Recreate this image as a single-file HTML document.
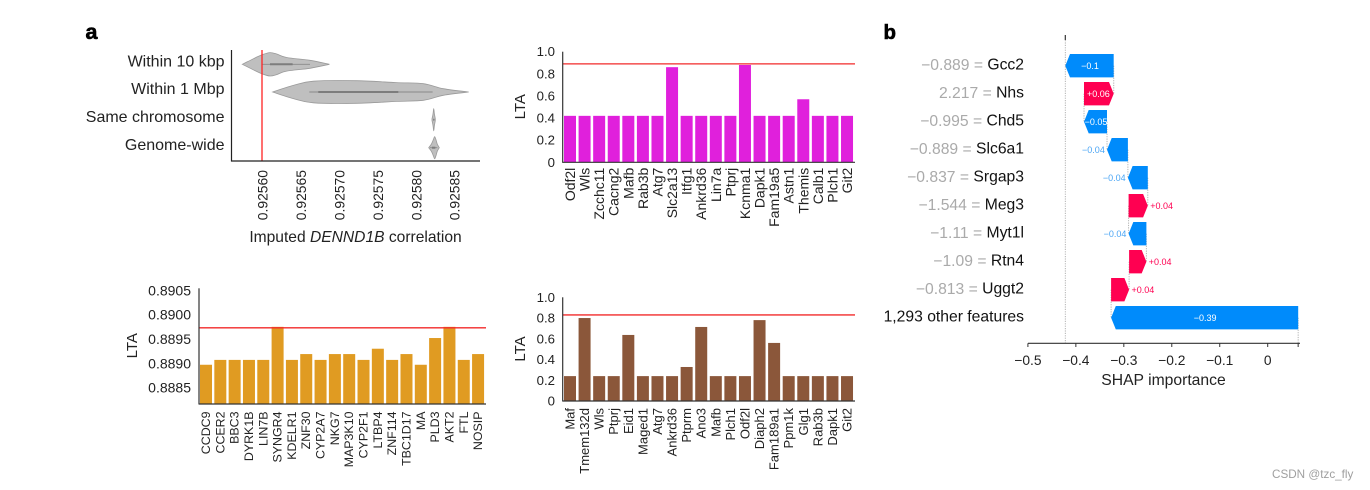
<!DOCTYPE html>
<html lang="en">
<head>
<meta charset="utf-8">
<title>LTA bars and SHAP waterfall</title>
<style>
html,body{margin:0;padding:0;background:#fff;width:1370px;height:490px;overflow:hidden}
svg{display:block;font-family:"Liberation Sans",sans-serif;fill:#222}
</style>
</head>
<body>
<svg id="fig" width="1370" height="490" viewBox="0 0 1370 490" xmlns="http://www.w3.org/2000/svg">
  <rect width="1370" height="490" fill="#fff"/>
  <text x="85.5" y="39" font-size="21.5" font-weight="bold" fill="#000" stroke="#000" stroke-width="0.6">a</text>
  <text x="883.5" y="39" font-size="20.5" font-weight="bold" fill="#000" stroke="#000" stroke-width="0.6">b</text>
  <g id="violin"></g>
  <g id="barsTop"></g>
  <g id="barsLeft"></g>
  <g id="barsRight"></g>
  <g id="shap"></g>
  <text x="355.5" y="242" font-size="15.6" text-anchor="middle">Imputed <tspan font-style="italic">DENND1B</tspan> correlation</text>
  <text x="1163.5" y="385" font-size="15.7" text-anchor="middle">SHAP importance</text>
  <text x="1272" y="478" font-size="11.7" fill="#a0a0a0">CSDN @tzc_fly</text>
</svg>
<script>
// ---------- Violin data ----------
const violinCategories = ["Within 10 kbp", "Within 1 Mbp", "Same chromosome", "Genome-wide"];
const violinTicks = [0.9256, 0.92565, 0.9257, 0.92575, 0.9258, 0.92585];
const violinTickLabels = ["0.92560", "0.92565", "0.92570", "0.92575", "0.92580", "0.92585"];
const violinThreshold = 0.9256;
const violin10kbpValues = [0.9255744, 0.9255887, 0.9256, 0.9256104, 0.9256191, 0.9256321, 0.9256625, 0.9256877];
const violin10kbpDensity = [0, 0.47, 0.81, 1, 0.88, 0.58, 0.34, 0];
const violin1MbpValues = [0.9256139, 0.9256408, 0.9256668, 0.9257233, 0.9257753, 0.9258101, 0.9258361, 0.9258691];
const violin1MbpDensity = [0, 0.56, 0.92, 0.97, 0.8, 0.71, 0.28, 0];
const violinChromValues = [0.9258214, 0.9258227, 0.9258236, 0.9258245, 0.9258257];
const violinChromDensity = [0.08, 0.5, 0.95, 0.5, 0.08];
const violinGenomeValues = [0.9258170, 0.9258205, 0.9258231, 0.9258248, 0.9258265, 0.9258283, 0.9258309];
const violinGenomeDensity = [0, 0.3, 0.68, 0.95, 0.68, 0.3, 0];
const violinWhiskerLow = [0.9256, 0.9256616, 0.9258227, 0.9258187];
const violinWhiskerHigh = [0.9256625, 0.9258222, 0.9258248, 0.9258283];
const violinQ1 = [0.9256104, 0.9256733, 0.9258230, 0.9258213];
const violinQ3 = [0.9256399, 0.9257775, 0.9258244, 0.9258257];

// ---------- Magenta bars ----------
const topCategories = ["Odf2l","Wls","Zcchc11","Cacng2","Mafb","Rab3b","Atg7","Slc2a13","Itfg1","Ankrd36","Lin7a","Ptprj","Kcnma1","Dapk1","Fam19a5","Astn1","Themis","Calb1","Plch1","Git2"];
const topValues = [0.42,0.42,0.42,0.42,0.42,0.42,0.42,0.86,0.42,0.42,0.42,0.42,0.88,0.42,0.42,0.42,0.57,0.42,0.42,0.42];
const topThreshold = 0.89;
const unitTicks = [0, 0.2, 0.4, 0.6, 0.8, 1];
const unitTickLabels = ["0", "0.2", "0.4", "0.6", "0.8", "1.0"];

// ---------- Ochre bars ----------
const leftCategories = ["CCDC9","CCER2","BBC3","DYRK1B","LIN7B","SYNGR4","KDELR1","ZNF30","CYP2A7","NKG7","MAP3K10","CYP2F1","LTBP4","ZNF114","TBC1D17","MA","PLD3","AKT2","FTL","NOSIP"];
const leftValues = [0.88897,0.88907,0.88907,0.88907,0.88907,0.88975,0.88907,0.88919,0.88907,0.88919,0.88919,0.88907,0.8893,0.88907,0.88919,0.88897,0.88952,0.88975,0.88907,0.88919];
const leftThreshold = 0.88973;
const leftTicks = [0.8885, 0.889, 0.8895, 0.89, 0.8905];
const leftTickLabels = ["0.8885", "0.8890", "0.8895", "0.8900", "0.8905"];

// ---------- Brown bars ----------
const rightCategories = ["Maf","Tmem132d","Wls","Ptprj","Eid1","Maged1","Atg7","Ankrd36","Ptprm","Ano3","Mafb","Plch1","Odf2l","Diaph2","Fam189a1","Ppm1k","Glg1","Rab3b","Dapk1","Git2"];
const rightValues = [0.24,0.8,0.24,0.24,0.637,0.24,0.24,0.24,0.328,0.714,0.24,0.24,0.24,0.78,0.56,0.24,0.24,0.24,0.24,0.24];
const rightThreshold = 0.83;

// ---------- SHAP waterfall (top row first) ----------
const shapFeatures = ["Gcc2","Nhs","Chd5","Slc6a1","Srgap3","Meg3","Myt1l","Rtn4","Uggt2","1,293 other features"];
const shapFeatureValues = ["\u22120.889","2.217","\u22120.995","\u22120.889","\u22120.837","\u22121.544","\u22121.11","\u22121.09","\u22120.813",""];
const shapValues = [-0.101,0.062,-0.048,-0.0435,-0.0415,0.04,-0.037,0.036,0.0375,-0.39];
const shapPrinted = ["\u22120.1","+0.06","\u22120.05","\u22120.04","\u22120.04","+0.04","\u22120.04","+0.04","+0.04","\u22120.39"];
const shapPredicted = 0.0635;
const shapTicks = [-0.5,-0.4,-0.3,-0.2,-0.1,0];
const shapTickLabels = ["\u22120.5","\u22120.4","\u22120.3","\u22120.2","\u22120.1","0"];

const NS = "http://www.w3.org/2000/svg";
function mk(parent, tag, attrs, txt) {
  const el = document.createElementNS(NS, tag);
  for (const k in attrs) el.setAttribute(k, attrs[k]);
  if (txt !== undefined) el.textContent = txt;
  parent.appendChild(el);
  return el;
}
function rotatedLabel(parent, x, y, size, txt, fill) {
  return mk(parent, "text", {x: x, y: y, "font-size": size, "text-anchor": "end", "dominant-baseline": "central", fill: fill || "#222", transform: "rotate(-90 " + x + " " + y + ")"}, txt);
}

// ---------- Violin drawing ----------
(function () {
  const g = document.getElementById("violin");
  const xV = v => 262 + (v - 0.9256) / 0.00005 * 38.4;
  const rowY = [64.3, 92, 119.7, 147.7];
  const maxHalf = 11.7;
  const valueSets = [violin10kbpValues, violin1MbpValues, violinChromValues, violinGenomeValues];
  const densitySets = [violin10kbpDensity, violin1MbpDensity, violinChromDensity, violinGenomeDensity];
  valueSets.forEach((vals, r) => {
    const dens = densitySets[r];
    const top = vals.map((v, i) => [xV(v), rowY[r] - dens[i] * maxHalf]);
    const bot = vals.map((v, i) => [xV(v), rowY[r] + dens[i] * maxHalf]).reverse();
    const pts = top.concat(bot);
    let d = "M" + pts[0][0].toFixed(1) + " " + pts[0][1].toFixed(1);
    const smooth = list => {
      for (let i = 0; i < list.length - 1; i++) {
        const p0 = list[Math.max(i - 1, 0)], p1 = list[i], p2 = list[i + 1], p3 = list[Math.min(i + 2, list.length - 1)];
        const c1x = p1[0] + (p2[0] - p0[0]) / 6, c1y = p1[1] + (p2[1] - p0[1]) / 6;
        const c2x = p2[0] - (p3[0] - p1[0]) / 6, c2y = p2[1] - (p3[1] - p1[1]) / 6;
        d += "C" + c1x.toFixed(1) + " " + c1y.toFixed(1) + " " + c2x.toFixed(1) + " " + c2y.toFixed(1) + " " + p2[0].toFixed(1) + " " + p2[1].toFixed(1);
      }
    };
    smooth(top);
    d += "L" + bot[0][0].toFixed(1) + " " + bot[0][1].toFixed(1);
    smooth(bot);
    const shape = mk(g, "path", {d: d + "Z", fill: "#bfbfbf", stroke: "#9a9a9a", "stroke-width": 0.8});
    
    
    const whisk = mk(g, "line", {x1: xV(violinWhiskerLow[r]), x2: xV(violinWhiskerHigh[r]), y1: rowY[r], y2: rowY[r], stroke: "#8a8a8a", "stroke-width": 0.9});
    
    
    const box = mk(g, "line", {x1: xV(violinQ1[r]), x2: xV(violinQ3[r]), y1: rowY[r], y2: rowY[r], stroke: "#7d7d7d", "stroke-width": 2});
    
    
    const lab = mk(g, "text", {x: 224.5, y: rowY[r] - 2.4, "font-size": 16, "text-anchor": "end", "dominant-baseline": "central"}, violinCategories[r]);
    
    
  });
  const red = mk(g, "line", {x1: xV(violinThreshold), x2: xV(violinThreshold), y1: 50, y2: 161, stroke: "#f22", "stroke-width": 1.3});
  
  
  const ya = mk(g, "line", {x1: 231.5, x2: 231.5, y1: 50, y2: 161.5, stroke: "#222", "stroke-width": 1.2});
  
  
  const xa = mk(g, "line", {x1: 231, x2: 480, y1: 161, y2: 161, stroke: "#222", "stroke-width": 1.2});
  
  
  violinTicks.forEach((t, i) => {
    const lab = rotatedLabel(g, xV(t) + 0.7, 170, 13.9, violinTickLabels[i]);
    
    
  });
})();

// ---------- Bar chart drawing ----------
function drawBars(id, o) {
  const g = document.getElementById(id);
  const yV = v => o.y0 - (v - o.v0) * o.pxPerUnit;
  const base = o.baseY;
  o.cats.forEach((c, i) => {
    const x = o.barX + i * o.step;
    const bar = mk(g, "rect", {x: x, y: yV(o.vals[i]), width: 12, height: base - yV(o.vals[i]), fill: o.color});
    
    
    const lab = rotatedLabel(g, x + 6, base + o.catOffset, o.catSize, c);
    
    
  });
  const red = mk(g, "line", {x1: o.axisX, x2: o.axisEnd, y1: yV(o.threshold), y2: yV(o.threshold), stroke: "#f22a2a", "stroke-width": 1.3});
  
  
  const ya = mk(g, "line", {x1: o.axisX, x2: o.axisX, y1: o.axisTop, y2: base + 0.5, stroke: "#333", "stroke-width": 1.2});
  
  
  const xa = mk(g, "line", {x1: o.axisX, x2: o.axisEnd, y1: base, y2: base, stroke: "#333", "stroke-width": 1.2});
  
  
  o.ticks.forEach((t, i) => {
    const lab = mk(g, "text", {x: o.tickX, y: yV(t), "font-size": o.tickSize, "text-anchor": "end", "dominant-baseline": "central"}, o.tickLabels[i]);
    
    
  });
  const ty = mk(g, "text", {x: o.titleX, y: o.titleY, "font-size": 15, "text-anchor": "middle", "dominant-baseline": "central", transform: "rotate(-90 " + o.titleX + " " + o.titleY + ")"}, "LTA");
  
  
}
drawBars("barsTop", {cats: topCategories, vals: topValues, threshold: topThreshold, ticks: unitTicks, tickLabels: unitTickLabels, color: "#e020dc", v0: 0, y0: 162.3, pxPerUnit: 110.6, baseY: 162.3, axisTop: 51.7, axisX: 562.7, axisEnd: 855, barX: 564, step: 14.58, tickX: 555, tickSize: 13.2, catSize: 14, catOffset: 5.4, titleX: 520.5, titleY: 106.7});
drawBars("barsLeft", {cats: leftCategories, vals: leftValues, threshold: leftThreshold, ticks: leftTicks, tickLabels: leftTickLabels, color: "#e09b22", v0: 0.889, y0: 363.3, pxPerUnit: 48600, baseY: 404, axisTop: 288.3, axisX: 199, axisEnd: 486, barX: 200, step: 14.32, tickX: 191, tickSize: 14, catSize: 12.4, catOffset: 7.5, titleX: 132.5, titleY: 345.7});
drawBars("barsRight", {cats: rightCategories, vals: rightValues, threshold: rightThreshold, ticks: unitTicks, tickLabels: unitTickLabels, color: "#8b573a", v0: 0, y0: 401, pxPerUnit: 103.7, baseY: 401, axisTop: 297.3, axisX: 562.7, axisEnd: 855, barX: 564, step: 14.58, tickX: 555, tickSize: 13.2, catSize: 13, catOffset: 7, titleX: 520.5, titleY: 349});

// ---------- SHAP waterfall drawing ----------
(function () {
  const g = document.getElementById("shap");
  const BLUE = "#008bfb", RED = "#ff0051";
  const xV = v => 1267.7 + v * 479.6;
  const rowY = i => 65.7 + i * 28;
  const halfH = 11.7;
  const n = shapValues.length;
  // walk from the bottom row upward, starting at the model output
  const from = new Array(n), to = new Array(n);
  let cur = shapPredicted;
  for (let i = n - 1; i >= 0; i--) { from[i] = cur; cur += shapValues[i]; to[i] = cur; }
  const baseLine = to[0];

  const tk = mk(g, "line", {x1: xV(baseLine), x2: xV(baseLine), y1: 35, y2: 40, stroke: "#333", "stroke-width": 1.2});
  
  
  const bl = mk(g, "line", {x1: xV(baseLine), x2: xV(baseLine), y1: 40, y2: 343, stroke: "#aaa", "stroke-width": 0.9, "stroke-dasharray": "1.2 1.2"});
  
  
  const el = mk(g, "line", {x1: xV(shapPredicted), x2: xV(shapPredicted), y1: rowY(n - 1), y2: 343, stroke: "#aaa", "stroke-width": 0.9, "stroke-dasharray": "1.2 1.2"});
  
  

  for (let i = 0; i < n; i++) {
    const y = rowY(i);
    if (i < n - 1) {
      const c = mk(g, "line", {x1: xV(from[i]), x2: xV(from[i]), y1: y, y2: y + 28, stroke: "#aaa", "stroke-width": 0.9, "stroke-dasharray": "1.2 1.2"});
      
      
    }
    const a = xV(from[i]), b = xV(to[i]);
    const dir = b >= a ? 1 : -1;
    const tip = Math.min(4.7, Math.abs(b - a));
    const shoulder = b - dir * tip;
    const poly = mk(g, "polygon", {
      points: [a, y - halfH, shoulder, y - halfH, b, y, shoulder, y + halfH, a, y + halfH].reduce((s, v, k) => s + v.toFixed(1) + (k % 2 ? " " : ","), ""),
      fill: shapValues[i] >= 0 ? RED : BLUE
    });
    
    

    const lft = Math.min(a, b), rgt = Math.max(a, b);
    const inside = rgt - lft > 22.5;
    let tx, anchor, col;
    if (inside) {
      tx = (lft + rgt) / 2 + (dir > 0 ? -0.5 : 0.5);
      anchor = "middle";
      col = "#fff";
    } else if (dir > 0) {
      tx = b + 2.4;
      anchor = "start";
      col = RED;
    } else {
      tx = b - 2.2;
      anchor = "end";
      col = "#4aa5f5";
    }
    const val = mk(g, "text", {x: tx, y: y + 0.4, "font-size": 9, "text-anchor": anchor, "dominant-baseline": "central", fill: col}, shapPrinted[i]);
    
    

    const lab = mk(g, "text", {x: 1024, y: y - 0.5, "font-size": 15.7, "text-anchor": "end", "dominant-baseline": "central", fill: "#111"});
    
    
    if (shapFeatureValues[i]) {
      const ts = mk(lab, "tspan", {fill: "#aaaaaa"}, shapFeatureValues[i] + " = ");
      
      
    }
    lab.appendChild(document.createTextNode(shapFeatures[i]));
  }

  const ax = mk(g, "line", {x1: 1028, x2: 1300, y1: 343.3, y2: 343.3, stroke: "#333", "stroke-width": 1.1});
  
  
  shapTicks.forEach((t, i) => {
    const m = mk(g, "line", {x1: xV(t), x2: xV(t), y1: 343.3, y2: 347, stroke: "#333", "stroke-width": 1});
    
    
    const l = mk(g, "text", {x: xV(t), y: 360.7, "font-size": 13.8, "text-anchor": "middle", "dominant-baseline": "central"}, shapTickLabels[i]);
    
    
  });
  const em = mk(g, "line", {x1: xV(shapPredicted), x2: xV(shapPredicted), y1: 343.3, y2: 347, stroke: "#333", "stroke-width": 1});
  
  
})();
</script>
</body>
</html>
